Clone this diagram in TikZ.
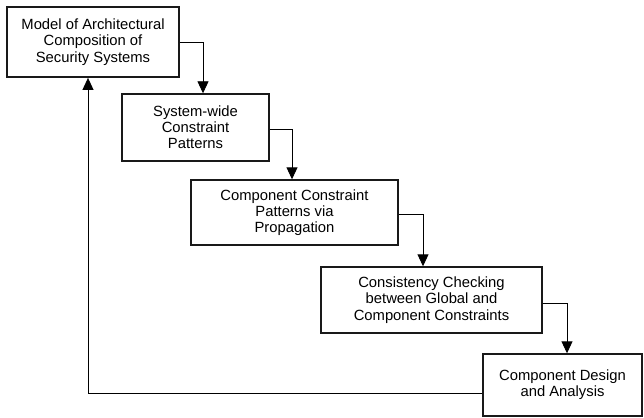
\documentclass[tikz,border=0pt]{standalone}
\usepackage{fontspec}
\setmainfont{Liberation Sans}
\usetikzlibrary{arrows.meta}
\begin{document}
\begin{tikzpicture}[x=1pt,y=-1pt,
  stage/.style={draw=black!90, line width=1.4pt, rectangle, align=center,
    inner sep=0pt, font=\fontsize{14.8}{16.2}\selectfont},
  mainstage/.style={stage, line width=1.8pt},
  flow/.style={draw=black, line width=0.9pt,
    -{Triangle[length=12pt,width=11pt]}}]
\useasboundingbox (0,0) rectangle (644,417);

% process stages
\node[mainstage, minimum width=172pt, minimum height=70pt] (b1) at (93,42)
  {Model of Architectural\\Composition of\\Security Systems};
\node[stage, minimum width=147pt, minimum height=67pt] (b2) at (195.5,127.5)
  {System-wide\\Constraint\\Patterns};
\node[stage, minimum width=207pt, minimum height=65pt] (b3) at (294.5,212.5)
  {Component Constraint\\Patterns via\\Propagation};
\node[stage, minimum width=221pt, minimum height=66pt] (b4) at (431.5,300)
  {Consistency Checking\\between Global and\\Component Constraints};
\node[stage, minimum width=159pt, minimum height=62pt] (b5) at (562.5,385)
  {Component Design\\and Analysis};

% forward flow between stages
\draw[flow] (b1.east) -| ([xshift=7.5pt]b2.north);
\draw[flow] ([yshift=-1.5pt]b2.east) -| ([xshift=-2.5pt]b3.north);
\draw[flow] ([yshift=-1.5pt]b3.east) -| ([xshift=-8.5pt]b4.north);
\draw[flow] ([yshift=-3pt]b4.east) -| ([xshift=4.5pt]b5.north);

% feedback to the architectural model
\draw[flow] ([yshift=-8pt]b5.west) -| ([xshift=-5pt]b1.south);
\end{tikzpicture}
\end{document}
